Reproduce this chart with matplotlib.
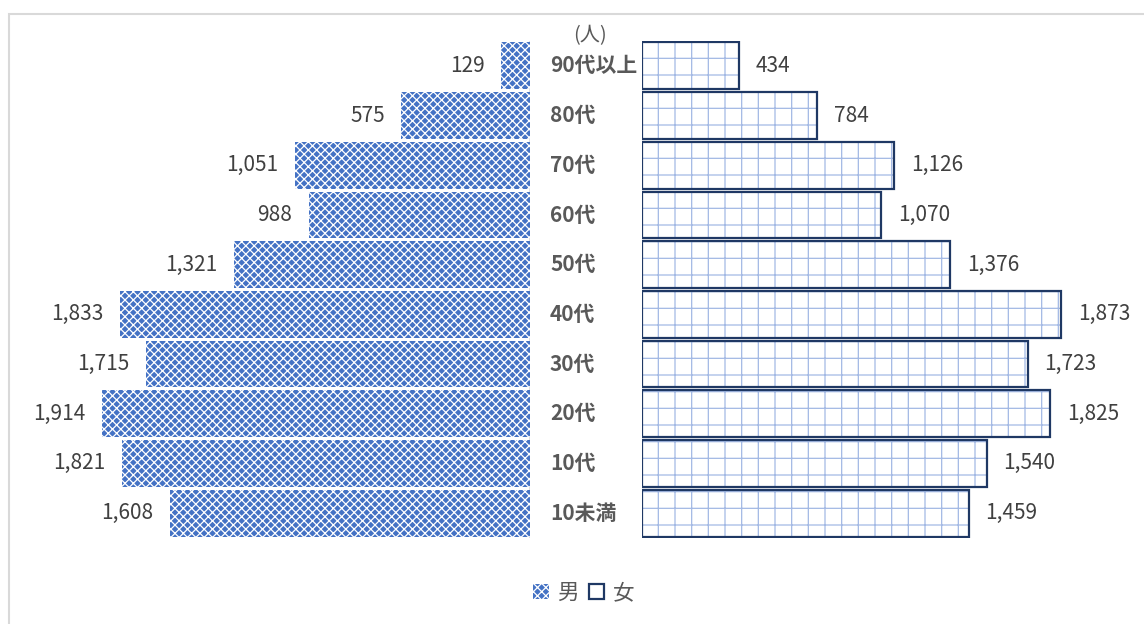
import matplotlib
matplotlib.use("Agg")
import matplotlib.pyplot as plt
from matplotlib.patches import Patch, Rectangle

plt.rcParams['font.family'] = ['Noto Sans CJK JP', 'DejaVu Sans']
plt.rcParams['hatch.linewidth'] = 0.9

# age groups, top row first
ages = ["90代以上", "80代", "70代", "60代", "50代", "40代", "30代", "20代", "10代", "10未満"]
male = [129, 575, 1051, 988, 1321, 1833, 1715, 1914, 1821, 1608]
female = [434, 784, 1126, 1070, 1376, 1873, 1723, 1825, 1540, 1459]
unit_label = "(人)"
legend_labels = ["男", "女"]

BLUE = "#4472C4"
NAVY = "#1F3864"
GRID_BLUE = "#A3B9E4"
TEXT = "#404040"
XMAX = 2100

W, H = 1144, 624
fig = plt.figure(figsize=(W / 100, H / 100), dpi=100)

ax_bottom = (H - 538) / H
ax_height = 497 / H
ax_m = fig.add_axes([60 / W, ax_bottom, 470 / W, ax_height])
ax_f = fig.add_axes([642 / W, ax_bottom, 470 / W, ax_height])

ypos = list(range(len(ages)))[::-1]

ax_m.barh(ypos, male, height=0.94, color=BLUE, edgecolor="white",
          hatch="xxxx", linewidth=0)
ax_f.barh(ypos, female, height=0.94, color="white", edgecolor=GRID_BLUE,
          hatch="+", linewidth=0)
# navy outline on the female bars, drawn separately from the hatch colour
ax_f.barh(ypos, female, height=0.94, color="none", edgecolor=NAVY, linewidth=1.6)

ax_m.set_xlim(XMAX, 0)
ax_f.set_xlim(0, XMAX)
for ax in (ax_m, ax_f):
    ax.set_ylim(-0.5, len(ages) - 0.5)
    ax.set_xticks([])
    ax.set_yticks([])
    for s in ax.spines.values():
        s.set_visible(False)
ax_m.axvline(0, color="#D9D9D9", lw=1.2, zorder=0)

for y, v in zip(ypos, male):
    ax_m.annotate(f"{v:,}", (v, y), xytext=(-12, 0), textcoords="offset points",
                  ha="right", va="center", fontsize=15, color=TEXT)
for y, v in zip(ypos, female):
    ax_f.annotate(f"{v:,}", (v, y), xytext=(12, 0), textcoords="offset points",
                  ha="left", va="center", fontsize=15, color=TEXT)

# category labels in the gap between the two halves
for y, a in zip(ypos, ages):
    ax_f.annotate(a, (0, y), xytext=(-92 * 0.72, 0), textcoords="offset points",
                  ha="left", va="center", fontsize=15, fontweight="bold",
                  color="#595959", annotation_clip=False)

fig.text(590 / W, 1 - 36 / H, unit_label, ha="center", va="center",
         fontsize=14.5, color="#595959")

handles = [Patch(facecolor=BLUE, edgecolor="white", hatch="xxxx", linewidth=0),
           Patch(facecolor="white", edgecolor=NAVY, linewidth=1.6)]
fig.legend(handles, legend_labels, loc="center", bbox_to_anchor=(584 / W, 1 - 593 / H),
           ncol=2, frameon=False, fontsize=15.5, handlelength=0.7, handleheight=0.7,
           handletextpad=0.4, columnspacing=0.5, labelcolor="#595959")

# light outer frame of the chart area
fig.patches.append(Rectangle((9 / W, -0.05), 1.2, 1 - 14 / H + 0.05,
                             transform=fig.transFigure, fill=False,
                             edgecolor="#D9D9D9", linewidth=1.5))

fig.savefig("out.png", dpi=100, facecolor="white")
